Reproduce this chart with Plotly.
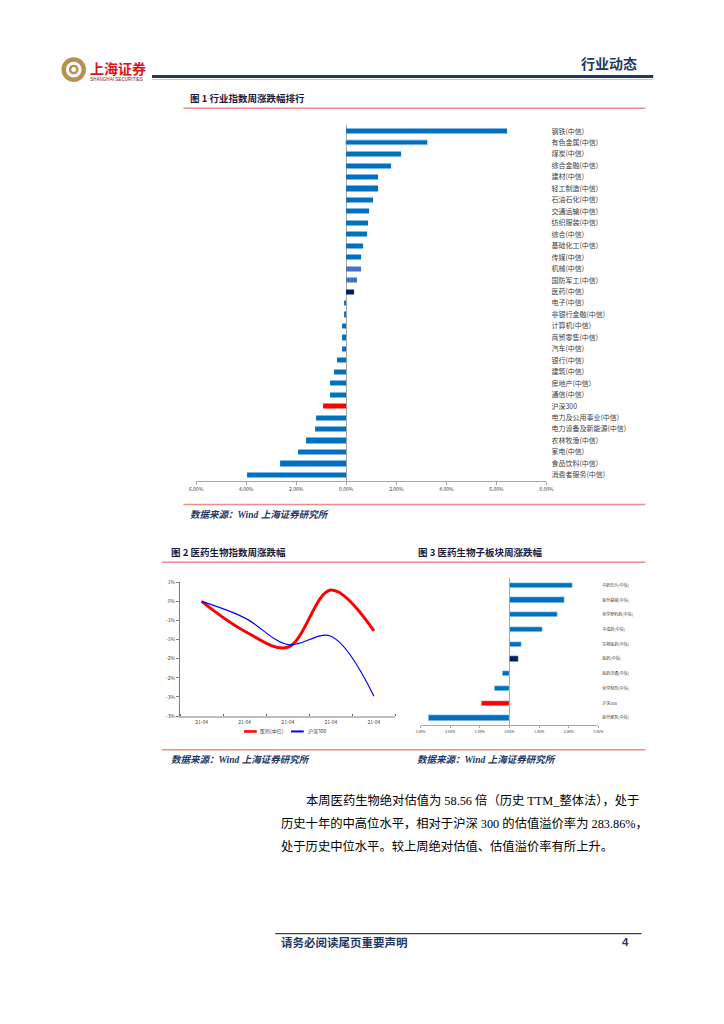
import plotly.graph_objects as go

# page coordinates (reference pixels) -> figure paper coordinates
OX, OY = 8, 10
FW, FH = 708, 1006
def px(x): return (x - OX) / FW
def py(y): return 1 - (y - OY) / FH

# ---------------- data ----------------
ind_names = ["钢铁(中信)", "有色金属(中信)", "煤炭(中信)", "综合金融(中信)", "建材(中信)",
             "轻工制造(中信)", "石油石化(中信)", "交通运输(中信)", "纺织服装(中信)", "综合(中信)",
             "基础化工(中信)", "传媒(中信)", "机械(中信)", "国防军工(中信)", "医药(中信)",
             "电子(中信)", "非银行金融(中信)", "计算机(中信)", "商贸零售(中信)", "汽车(中信)",
             "银行(中信)", "建筑(中信)", "房地产(中信)", "通信(中信)", "沪深300",
             "电力及公用事业(中信)", "电力设备及新能源(中信)", "农林牧渔(中信)", "家电(中信)",
             "食品饮料(中信)", "消费者服务(中信)"]
ind_values = [6.41, 3.28, 2.21, 1.78, 1.29, 1.28, 1.08, 0.90, 0.87, 0.85,
              0.68, 0.61, 0.61, 0.44, 0.33, -0.08, -0.10, -0.16, -0.18, -0.18,
              -0.36, -0.49, -0.66, -0.66, -0.91, -1.20, -1.24, -1.60, -1.91,
              -2.66, -3.98]
ind_colors = ["#0070C0"] * 12 + ["#4472C4", "#4472C4", "#002060"] + ["#0070C0"] * 9 + \
             ["#FF0000"] + ["#0070C0"] * 6
ind_ticks = [-6, -4, -2, 0, 2, 4, 6, 8]
ind_ticktext = ["6.00%", "4.00%", "2.00%", "0.00%", "2.00%", "4.00%", "6.00%", "8.00%"]

line_dates = ["21-04", "21-04", "21-04", "21-04", "21-04"]
med_line = [0.0, -0.78, -1.20, 0.30, -0.77]
hs300_line = [0.0, -0.43, -1.13, -0.91, -2.48]
line_yticks = [0.5, 0.0, -0.5, -1.0, -1.5, -2.0, -2.5, -3.0]
line_yticktext = ["1%", "0%", "-1%", "-1%", "-2%", "-2%", "-3%", "-3%"]

sub_names = ["中药饮片(中信)", "医疗器械(中信)", "化学原料药(中信)", "中成药(中信)", "生物医药(中信)",
             "医药(中信)", "医药流通(中信)", "化学制剂(中信)", "沪深300", "医疗服务(中信)"]
sub_values = [2.12, 1.87, 1.63, 1.10, 0.40, 0.31, -0.22, -0.51, -0.93, -2.72]
sub_colors = ["#0070C0"] * 5 + ["#002060", "#0070C0", "#0070C0", "#FF0000", "#0070C0"]
sub_ticks = [-3, -2, -1, 0, 1, 2, 3]
sub_ticktext = ["3.00%", "2.00%", "1.00%", "0.00%", "1.00%", "2.00%", "3.00%"]

CJK = "Noto Sans CJK SC"
SERIF = "Liberation Serif, Noto Sans CJK SC"
NAVY = "#1F3864"
PINK = "#F08C8C"

fig = go.Figure()

# ---------------- chart 1 ----------------
fig.add_trace(go.Bar(
    x=ind_values, y=ind_names, orientation="h", width=0.45,
    marker=dict(color=ind_colors,
                line=dict(color=["#FFFFFF"] + ["#BDD7EE"] + ["#FFFFFF"] * 29,
                          width=[0, 1] + [0] * 29)),
    xaxis="x", yaxis="y", showlegend=False))

# ---------------- chart 2 ----------------
fig.add_trace(go.Scatter(
    x=list(range(len(line_dates))), y=med_line, mode="lines",
    line=dict(color="#FF0000", width=3, shape="spline", smoothing=1.0),
    xaxis="x2", yaxis="y2", showlegend=False))
fig.add_trace(go.Scatter(
    x=list(range(len(line_dates))), y=hs300_line, mode="lines",
    line=dict(color="#0000FF", width=1.2, shape="spline", smoothing=1.0),
    xaxis="x2", yaxis="y2", showlegend=False))

# ---------------- chart 3 ----------------
fig.add_trace(go.Bar(
    x=sub_values, y=sub_names, orientation="h", width=0.36,
    marker=dict(color=sub_colors),
    xaxis="x3", yaxis="y3", showlegend=False))

fig.update_layout(
    width=FW, height=FH, margin=dict(l=0, r=0, t=0, b=0),
    paper_bgcolor="white", plot_bgcolor="rgba(0,0,0,0)",
    bargap=0,
    xaxis=dict(domain=[px(193), px(551)], range=[-6, 8], tickvals=ind_ticks,
               ticktext=ind_ticktext, tickfont=dict(size=5, family=CJK, color="#404040"),
               showgrid=False, zeroline=True, zerolinecolor="#A6A6A6", zerolinewidth=1,
               showline=True, linecolor="#A6A6A6", linewidth=1, ticks="outside",
               ticklen=3, tickcolor="#A6A6A6", anchor="y", fixedrange=True),
    yaxis=dict(domain=[py(481.8), py(124.2)], autorange="reversed", side="right",
               tickfont=dict(size=7, family=CJK, color="#404040"), showgrid=False,
               showline=False, ticks="", anchor="x", ticklabelstandoff=4),
    xaxis2=dict(domain=[px(176.7), px(396.7)], range=[-0.5, 4.5],
                tickvals=list(range(len(line_dates))), ticktext=line_dates,
                tickfont=dict(size=5, family=CJK, color="#404040"), showgrid=False,
                zeroline=False, showline=True, linecolor="#BFBFBF", linewidth=2, ticks="",
                minor=dict(tick0=0.5, dtick=1, ticks="inside", ticklen=2, tickcolor="#606060"),
                anchor="y2"),
    yaxis2=dict(domain=[py(719), py(584.3)], range=[-3, 0.5], tickvals=line_yticks,
                ticktext=line_yticktext, tickfont=dict(size=5, family=CJK, color="#404040"),
                showgrid=False, zeroline=False, showline=True, linecolor="#808080",
                linewidth=1, ticks="outside", ticklen=3, tickcolor="#808080", anchor="x2"),
    xaxis3=dict(domain=[px(422.3), px(604)], range=[-3, 3], tickvals=sub_ticks,
                ticktext=sub_ticktext, tickfont=dict(size=3.5, family=CJK, color="#404040"),
                showgrid=False, zeroline=True, zerolinecolor="#A6A6A6", zerolinewidth=1,
                showline=True, linecolor="#A6A6A6", linewidth=1, ticks="outside",
                ticklen=2, tickcolor="#A6A6A6", anchor="y3"),
    yaxis3=dict(domain=[py(728.3), py(580)], autorange="reversed", side="right",
                tickfont=dict(size=4, family=CJK, color="#404040"), showgrid=False,
                showline=False, ticks="", anchor="x3", ticklabelstandoff=3),
)

shapes = []
def hline(x0, x1, y, color, w):
    shapes.append(dict(type="line", xref="paper", yref="paper", x0=px(x0), x1=px(x1),
                       y0=py(y), y1=py(y), line=dict(color=color, width=w)))

# header
hline(148, 660, 75, NAVY, 3)
hline(148, 660, 78, "#8EA0C8", 0.6)
hline(180, 652, 107, PINK, 1.5)
hline(180, 652, 506, PINK, 1.5)
hline(158, 652, 564, PINK, 1.5)
hline(158, 652, 753, PINK, 1.5)
hline(274, 648, 938, "#404040", 1.2)

# logo
cx, cy = 68, 68
for r, col in [(12.5, "#B8904F"), (8, "#FFFFFF"), (5, "#B8904F"), (2.5, "#FFFFFF")]:
    shapes.append(dict(type="circle", xref="paper", yref="paper",
                       x0=px(cx - r), x1=px(cx + r), y0=py(cy + r), y1=py(cy - r),
                       fillcolor=col, line=dict(width=0)))

# chart2 legend samples
hline(242, 255, 734.5, "#FF0000", 2.5)
hline(290, 303, 734.5, "#0000FF", 2)

fig.update_layout(shapes=shapes)

ann = []
def text(x, y, s, size, color="#000000", family=CJK, xanchor="left", yanchor="middle"):
    ann.append(dict(x=px(x), y=py(y), xref="paper", yref="paper", text=s, showarrow=False,
                    xanchor=xanchor, yanchor=yanchor, align="left",
                    font=dict(size=size, color=color, family=family)))

text(83, 66, "<b>上海证券</b>", 14, "#D7141A")
text(83, 78, "SHANGHAI SECURITIES", 4.6, "#8B1A1A", "Liberation Sans")
text(646, 61, "<b>行业动态</b>", 14, NAVY, CJK, xanchor="right")

text(185, 97, "<b>图 1 行业指数周涨跌幅排行</b>", 9.5, "#1A1A40")
text(165, 554, "<b>图 2 医药生物指数周涨跌幅</b>", 9.5, "#1A1A40")
text(418, 554, "<b>图 3 医药生物子板块周涨跌幅</b>", 9.5, "#1A1A40")

text(185, 516, "<b><i>数据来源：Wind 上海证券研究所</i></b>", 9.5, NAVY, SERIF)
text(165, 763, "<b><i>数据来源：Wind 上海证券研究所</i></b>", 9.5, NAVY, SERIF)
text(417, 763, "<b><i>数据来源：Wind 上海证券研究所</i></b>", 9.5, NAVY, SERIF)

text(256, 734.5, "医药(中信)", 5, "#404040")
text(305, 734.5, "沪深300", 5, "#404040")

text(303, 804, "本周医药生物绝对估值为 58.56 倍（历史 TTM_整体法），处于", 12.3, "#000000", SERIF)
text(278, 827, "历史十年的中高位水平，相对于沪深 300 的估值溢价率为 283.86%，", 12.3, "#000000", SERIF)
text(278, 850, "处于历史中位水平。较上周绝对估值、估值溢价率有所上升。", 12.3, "#000000", SERIF)

text(278, 947, "<b>请务必阅读尾页重要声明</b>", 11.5, NAVY)
text(637, 947, "<b>4</b>", 11.5, NAVY, "Liberation Sans", xanchor="right")

fig.update_layout(annotations=ann)
fig.write_html("out.html")
